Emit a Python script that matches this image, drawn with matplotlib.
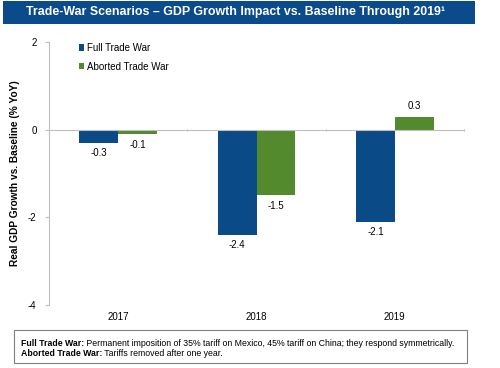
import matplotlib
matplotlib.use('Agg')
import matplotlib.pyplot as plt
import matplotlib.transforms as mtransforms
from matplotlib.patches import Rectangle
import numpy as np

plt.rcParams['font.family'] = ['Liberation Sans', 'DejaVu Sans']

years = ['2017', '2018', '2019']
full_war = [-0.3, -2.4, -2.1]
aborted_war = [-0.1, -1.5, 0.3]
series_names = ['Full Trade War', 'Aborted Trade War']
title = 'Trade-War Scenarios \u2013 GDP Growth Impact vs. Baseline Through 2019\u00b9'
ylabel = 'Real GDP Growth vs. Baseline (% YoY)'
notes = [('Full Trade War:', ' Permanent imposition of 35% tariff on Mexico, 45% tariff on China; they respond symmetrically.'),
         ('Aborted Trade War:', ' Tariffs removed after one year.')]

BLUE = '#0A4A87'
GREEN = '#548A2E'
GRAY = '#BFBFBF'

fig = plt.figure(figsize=(5.0, 3.68), dpi=100)

# --- Title banner ---
fig.patches.append(Rectangle((3 / 500, 1 - 24 / 368), 472 / 500, 23 / 368,
                             transform=fig.transFigure, facecolor='#0B4A8B',
                             edgecolor='none'))
fig.text(235 / 500, 1 - 12.5 / 368, title, color='white', fontsize=8.9, fontweight='bold',
         ha='center', va='center')

# --- Chart ---
ax = fig.add_axes([49 / 500, 63 / 368, 415 / 500, 263 / 368])
x = np.arange(len(years))
w = 0.28
b1 = ax.bar(x - w / 2, full_war, w, color=BLUE, label=series_names[0])
b2 = ax.bar(x + w / 2, aborted_war, w, color=GREEN, label=series_names[1])
ax.bar_label(b1, labels=[f'{v:.1f}' for v in full_war], padding=4, fontsize=7)
ax.bar_label(b2, labels=[f'{v:.1f}' for v in aborted_war], padding=4, fontsize=7)

ax.set_xlim(-0.5, 2.5)
ax.set_ylim(-4, 2)
ax.set_yticks([2, 0, -2, -4])
ax.set_yticklabels(['2', '0', '-2', '-4'], fontsize=7)

for s in ['top', 'right']:
    ax.spines[s].set_visible(False)
ax.spines['left'].set_color(GRAY)
ax.spines['bottom'].set_color(GRAY)
ax.spines['bottom'].set_position(('data', 0))
ax.set_xticks([0.5, 1.5, 2.5])
ax.set_xticklabels([])
ax.tick_params(axis='x', colors=GRAY, length=2, direction='inout')
ax.tick_params(axis='y', colors=GRAY, length=3, labelcolor='black', pad=6)

trans = mtransforms.blended_transform_factory(ax.transData, ax.transAxes)
for i, yr in enumerate(years):
    ax.text(i, -0.045, yr, transform=trans, ha='center', va='center', fontsize=7)

ax.set_ylabel(ylabel, fontsize=7.3, fontweight='bold', labelpad=6)

leg = ax.legend(loc='upper left', bbox_to_anchor=(0.05, 1.03), frameon=False,
                fontsize=7, handlelength=0.6, handleheight=0.6, handletextpad=0.3,
                labelspacing=0.9)

# --- Footnote box ---
fig.patches.append(Rectangle((14 / 500, 1 - 363 / 368), 453 / 500, 33 / 368,
                             transform=fig.transFigure, facecolor='white',
                             edgecolor='#808080', linewidth=0.8))
fig.canvas.draw()
renderer = fig.canvas.get_renderer()
for row, (head, body) in enumerate(notes):
    yy = 1 - (343 + row * 10.5) / 368
    t = fig.text(21 / 500, yy, head, fontsize=6.3, fontweight='bold', va='center')
    bb = t.get_window_extent(renderer)
    fig.text(bb.x1 / fig.bbox.width, yy, body, fontsize=6.3, va='center')

fig.savefig('out.png', dpi=100)
